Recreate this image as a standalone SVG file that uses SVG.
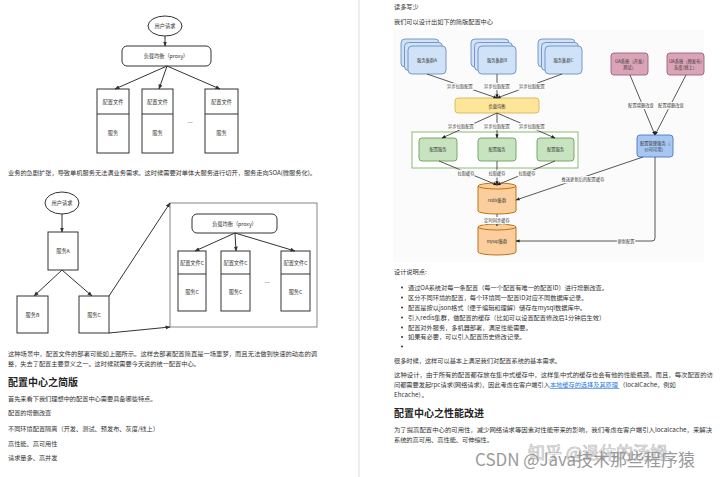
<svg xmlns="http://www.w3.org/2000/svg" width="720" height="477" viewBox="0 0 720 477">
<style>
text{font-family:"Noto Sans CJK SC","Noto Sans",sans-serif;fill:#333}
.t{font-size:6.2px}
.h{font-size:10px;font-weight:bold;fill:#222}
.d{font-size:5.2px;text-anchor:middle}
.s{font-size:4.3px;text-anchor:middle}
.lb{font-size:4.3px;text-anchor:middle;stroke:#fff;stroke-width:2;paint-order:stroke}
.box{fill:#fff;stroke:#333;stroke-width:1}
.ln{fill:none;stroke:#333;stroke-width:1}
.ln2{fill:none;stroke:#444;stroke-width:0.9}
.blue{fill:#cfe2f8;stroke:#6c8ebf;stroke-width:0.9}
.green{fill:#c8e3c0;stroke:#6a9f57;stroke-width:0.9}
.org{fill:#fbcf9d;stroke:#b46504;stroke-width:0.9}
.pink{fill:#dba3b6;stroke:#996185;stroke-width:0.9}
</style>
<defs>
<marker id="ah" viewBox="0 0 10 10" refX="9" refY="5" markerWidth="5" markerHeight="5" orient="auto"><path d="M0,1 L10,5 L0,9 z" fill="#333"/></marker>
<marker id="ah2" viewBox="0 0 10 10" refX="9" refY="5" markerWidth="4.5" markerHeight="4.5" orient="auto"><path d="M0,1 L10,5 L0,9 z" fill="#222"/></marker>
</defs>
<rect width="720" height="477" fill="#fff"/>
<line x1="359" y1="0" x2="359" y2="477" stroke="#ddd" stroke-width="1"/>
<rect x="393" y="30" width="311" height="232" fill="#fbfbfb"/>

<!-- Diagram 1 -->
<g id="d1-user"><ellipse cx="165" cy="26" rx="17" ry="10" class="box"/><text x="165" y="28" class="d">用户请求</text></g>
<g id="d1-proxy"><rect x="122" y="46" width="89" height="20" rx="5" class="box"/><text x="166" y="58" class="d">负载均衡（proxy）</text></g>
<g id="d1-s1"><rect x="97" y="89" width="32" height="64" class="box"/><line x1="97" y1="114" x2="129" y2="114" class="ln"/><text x="113" y="104" class="d">配置文件</text><text x="113" y="135" class="d">服务</text></g>
<g id="d1-s2"><rect x="142" y="89" width="31" height="64" class="box"/><line x1="142" y1="114" x2="173" y2="114" class="ln"/><text x="157.5" y="104" class="d">配置文件</text><text x="157.5" y="135" class="d">服务</text></g>
<g id="d1-s3"><rect x="205" y="89" width="33" height="64" class="box"/><line x1="205" y1="114" x2="238" y2="114" class="ln"/><text x="221.5" y="104" class="d">配置文件</text><text x="221.5" y="135" class="d">服务</text></g>
<text x="190" y="125" class="d">…</text>

<!-- Diagram 2 -->
<g id="d2-user"><ellipse cx="62" cy="203" rx="17" ry="11" class="box"/><text x="62" y="205" class="d">用户请求</text></g>
<g id="d2-a"><rect x="48" y="232" width="30" height="38" class="box"/><text x="63" y="253" class="d">服务A</text></g>
<g id="d2-b"><rect x="17" y="296" width="31" height="37" class="box"/><text x="32.5" y="317" class="d">服务B</text></g>
<g id="d2-c"><rect x="79" y="296" width="30" height="37" class="box"/><text x="94" y="317" class="d">服务C</text></g>
<g id="d2-frame"><rect x="170" y="203" width="147" height="124" fill="#fff" stroke="#666" stroke-width="0.8"/></g>
<g id="d2-proxy"><rect x="192" y="214" width="85" height="19" rx="5" class="box"/><text x="234.5" y="225.5" class="d">负载均衡（proxy）</text></g>
<g id="d2-c1"><rect x="178" y="251" width="28" height="60" class="box"/><line x1="178" y1="274" x2="206" y2="274" class="ln"/><text x="192" y="265" class="d">配置文件C</text><text x="192" y="294" class="d">服务C</text></g>
<g id="d2-c2"><rect x="221" y="251" width="29" height="60" class="box"/><line x1="221" y1="274" x2="250" y2="274" class="ln"/><text x="235.5" y="265" class="d">配置文件C</text><text x="235.5" y="294" class="d">服务C</text></g>
<g id="d2-c3"><rect x="281" y="251" width="29" height="60" class="box"/><line x1="281" y1="274" x2="310" y2="274" class="ln"/><text x="295.5" y="265" class="d">配置文件C</text><text x="295.5" y="294" class="d">服务C</text></g>
<text x="267" y="285" class="d">…</text>

<!-- Right diagram nodes -->
<g id="r-stackA"><rect x="401" y="39" width="38" height="28" rx="4" class="blue"/><rect x="404.5" y="42.5" width="38" height="28" rx="4" class="blue"/><rect x="408" y="46" width="38" height="28" rx="4" class="blue"/><text x="427" y="62" class="s">服务集群A</text></g>
<g id="r-stackB"><rect x="471" y="39" width="38" height="28" rx="4" class="blue"/><rect x="474.5" y="42.5" width="38" height="28" rx="4" class="blue"/><rect x="478" y="46" width="38" height="28" rx="4" class="blue"/><text x="497" y="62" class="s">服务集群B</text></g>
<g id="r-stackC"><rect x="538" y="39" width="37" height="28" rx="4" class="blue"/><rect x="541.5" y="42.5" width="37" height="28" rx="4" class="blue"/><rect x="545" y="46" width="37" height="28" rx="4" class="blue"/><text x="563.5" y="62" class="s">服务集群C</text></g>
<g id="r-oa1"><rect x="611" y="53" width="37" height="22" rx="3" class="pink"/><text x="629.5" y="63" class="s">OA系统（开发/</text><text x="629.5" y="68.5" class="s">测试）</text></g>
<g id="r-oa2"><rect x="667" y="53" width="37" height="22" rx="3" class="pink"/><text x="685.5" y="63" class="s">OA系统（预发布/</text><text x="685.5" y="68.5" class="s">灰度/线上）</text></g>
<g id="r-lb"><rect x="455" y="98" width="84" height="15" rx="3" fill="#fde59a" stroke="#d6b656" stroke-width="0.9"/><text x="497" y="107.5" class="s">负载均衡</text></g>
<g id="r-cluster"><rect x="412" y="132" width="166" height="36" fill="#fff" stroke="#82b366" stroke-width="0.9"/></g>
<g id="r-cfg1"><rect x="419" y="138" width="38" height="23" rx="3" class="green"/><text x="438" y="151" class="s">配置服务</text></g>
<g id="r-cfg2"><rect x="478" y="138" width="38" height="23" rx="3" class="green"/><text x="497" y="151" class="s">配置服务</text></g>
<g id="r-cfg3"><rect x="537" y="138" width="37" height="23" rx="3" class="green"/><text x="555.5" y="151" class="s">配置服务</text></g>
<g id="r-mgr"><rect x="637" y="135" width="36" height="22" rx="3" fill="#a7c7f2" stroke="#4a78c2" stroke-width="0.9"/><text x="655" y="145" class="s">配置管理服务（</text><text x="655" y="150.5" class="s">公司可用）</text></g>
<g id="r-redis"><path d="M478,186 a19,3 0 0,1 38,0 v25 a19,3 0 0,1 -38,0 z" class="org"/><path d="M478,186 a19,3 0 0,0 38,0" class="org" fill="none"/><text x="497" y="202" class="s">redis集群</text></g>
<g id="r-mysql"><path d="M478,227 a19,3 0 0,1 38,0 v25 a19,3 0 0,1 -38,0 z" class="org"/><path d="M478,227 a19,3 0 0,0 38,0" class="org" fill="none"/><text x="497" y="243" class="s">mysql集群</text></g>

<!-- Connectors -->
<g id="connectors">
<path d="M165,36 V46" class="ln" marker-end="url(#ah)"/>
<path d="M167,66 L115,89" class="ln" marker-end="url(#ah)"/>
<path d="M167,66 L159,89" class="ln" marker-end="url(#ah)"/>
<path d="M167,66 L220,89" class="ln" marker-end="url(#ah)"/>
<path d="M62,214 V232" class="ln" marker-end="url(#ah)"/>
<path d="M62,270 L34,296" class="ln" marker-end="url(#ah)"/>
<path d="M62,270 L92,296" class="ln" marker-end="url(#ah)"/>
<path d="M109,296 L170,203" class="ln" marker-end="url(#ah)"/>
<path d="M109,333 L170,327" class="ln" marker-end="url(#ah)"/>
<path d="M235,233 L195,251" class="ln" marker-end="url(#ah)"/>
<path d="M235,233 L236,251" class="ln" marker-end="url(#ah)"/>
<path d="M235,233 L295,251" class="ln" marker-end="url(#ah)"/>

<path d="M427,74 L497,98" class="ln2" marker-end="url(#ah2)"/>
<path d="M497,74 L497,98" class="ln2" marker-end="url(#ah2)"/>
<path d="M562,74 L497,98" class="ln2" marker-end="url(#ah2)"/>
<path d="M497,113 L442,138" class="ln2" marker-end="url(#ah2)"/>
<path d="M497,113 L497,138" class="ln2" marker-end="url(#ah2)"/>
<path d="M497,113 L555,138" class="ln2" marker-end="url(#ah2)"/>
<path d="M439,161 L497,185" class="ln2" marker-end="url(#ah2)"/>
<path d="M497,161 L497,185" class="ln2" marker-end="url(#ah2)"/>
<path d="M555,161 L497,185" class="ln2" marker-end="url(#ah2)"/>
<path d="M497,214 L497,226" class="ln2" marker-end="url(#ah2)"/>
<path d="M630,75 L655,135" class="ln2" marker-end="url(#ah2)"/>
<path d="M686,75 L655,135" class="ln2" marker-end="url(#ah2)"/>
<path d="M643,157 L516,200" class="ln2" marker-end="url(#ah2)"/>
<path d="M655,157 V238 Q655,241 652,241 H516" class="ln2" marker-end="url(#ah2)"/>
<text x="460" y="87.5" class="lb">异步拉取配置</text>
<text x="497" y="87.5" class="lb">异步拉取配置</text>
<text x="532" y="87.5" class="lb">异步拉取配置</text>
<text x="461" y="127.5" class="lb">异步拉取配置</text>
<text x="497" y="127.5" class="lb">异步拉取配置</text>
<text x="532" y="127.5" class="lb">异步拉取配置</text>
<text x="466" y="174.5" class="lb">拉取缓存</text>
<text x="497" y="174.5" class="lb">拉取缓存</text>
<text x="527" y="174.5" class="lb">拉取缓存</text>
<text x="497" y="221.5" class="lb">定时同步缓存</text>
<text x="641" y="106.5" class="lb">配置增删改查</text>
<text x="671" y="106.5" class="lb">配置增删改查</text>
<text x="583" y="180.5" class="lb">推送更新后的配置缓存</text>
<text x="626" y="242.5" class="lb">更新配置</text>
</g>

<!-- Left page text -->
<text x="8" y="175" class="t" textLength="308" lengthAdjust="spacingAndGlyphs">业务的急剧扩张，导致单机服务无法满业务需求。这时候需要对单体大服务进行切开，服务走向SOA(微服务化)。</text>
<text x="8" y="356" class="t" textLength="309" lengthAdjust="spacingAndGlyphs">这种场景中，配置文件的部署可能如上图所示。这样去部署配置简直是一场噩梦，而且无法做到快速的动态的调</text>
<text x="8" y="366" class="t">整，失去了配置主要意义之一。这时候就需要今天说的统一配置中心。</text>
<text x="8" y="386" class="h">配置中心之简版</text>
<text x="8" y="401" class="t">首先来看下我们理想中的配置中心需要具备哪些特点。</text>
<text x="8" y="415" class="t">配置的增删改查</text>
<text x="8" y="431" class="t">不同环境配置隔离（开发、测试、预发布、灰度/线上）</text>
<text x="8" y="446" class="t">高性能、高可用性</text>
<text x="8" y="460" class="t">请求量多、高并发</text>

<!-- Right page text -->
<text x="394" y="9" class="t">读多写少</text>
<text x="394" y="24" class="t">我们可以设计出如下的简版配置中心</text>
<text x="394" y="274" class="t">设计说明点:</text>
<g fill="#333"><circle cx="402" cy="287.5" r="1"/><circle cx="402" cy="297.5" r="1"/><circle cx="402" cy="307.5" r="1"/><circle cx="402" cy="317.5" r="1"/><circle cx="402" cy="327.5" r="1"/><circle cx="402" cy="337" r="1"/><circle cx="402" cy="346.5" r="1"/></g>
<text x="408" y="290" class="t">通过OA系统对每一条配置（每一个配置有唯一的配置ID）进行增删改查。</text>
<text x="408" y="300" class="t">区分不同环境的配置，每个环境同一配置ID对应不同数据库记录。</text>
<text x="408" y="310" class="t">配置是按以json格式（便于编辑和理解）储存在mysql数据库中。</text>
<text x="408" y="320" class="t">引入redis集群，做配置的缓存（比如可以设置配置修改后1分钟后生效）</text>
<text x="408" y="330" class="t">配置对外服务，多机器部署，满足性能需要。</text>
<text x="408" y="339" class="t">如果有必要，可以引入配置历史修改记录。</text>
<text x="394" y="363" class="t">很多时候，这样可以基本上满足我们对配置系统的基本需求。</text>
<text x="394" y="377" class="t" textLength="319" lengthAdjust="spacingAndGlyphs">这种设计，由于所有的配置都存放在集中式缓存中，这样集中式的缓存也会有他的性能瓶颈。而且，每次配置的访</text>
<text x="394" y="387" class="t">问都需要发起rpc请求(网络请求)，因此考虑在客户端引入<tspan fill="#2a7ae2" text-decoration="underline">本地缓存的选择及其原理 </tspan>（localCache，例如</text>
<text x="394" y="397" class="t">Ehcache）。</text>
<text x="394" y="417" class="h">配置中心之性能改进</text>
<text x="394" y="432" class="t" textLength="318" lengthAdjust="spacingAndGlyphs">为了提高配置中心的可用性，减少网络请求等因素对性能带来的影响，我们考虑在客户端引入localcache，来解决</text>
<text x="394" y="442" class="t">系统的高可用、高性能、可伸缩性。</text>

<!-- Watermarks -->
<text x="528" y="459" style="font-size:17px;fill:none;stroke:#bbb;stroke-width:0.7">知乎 @退休的汤姆</text>
<text x="475" y="466" style="font-size:17px;fill:#8a8a8a;opacity:0.85">CSDN @Java技术那些程序猿</text>
</svg>
